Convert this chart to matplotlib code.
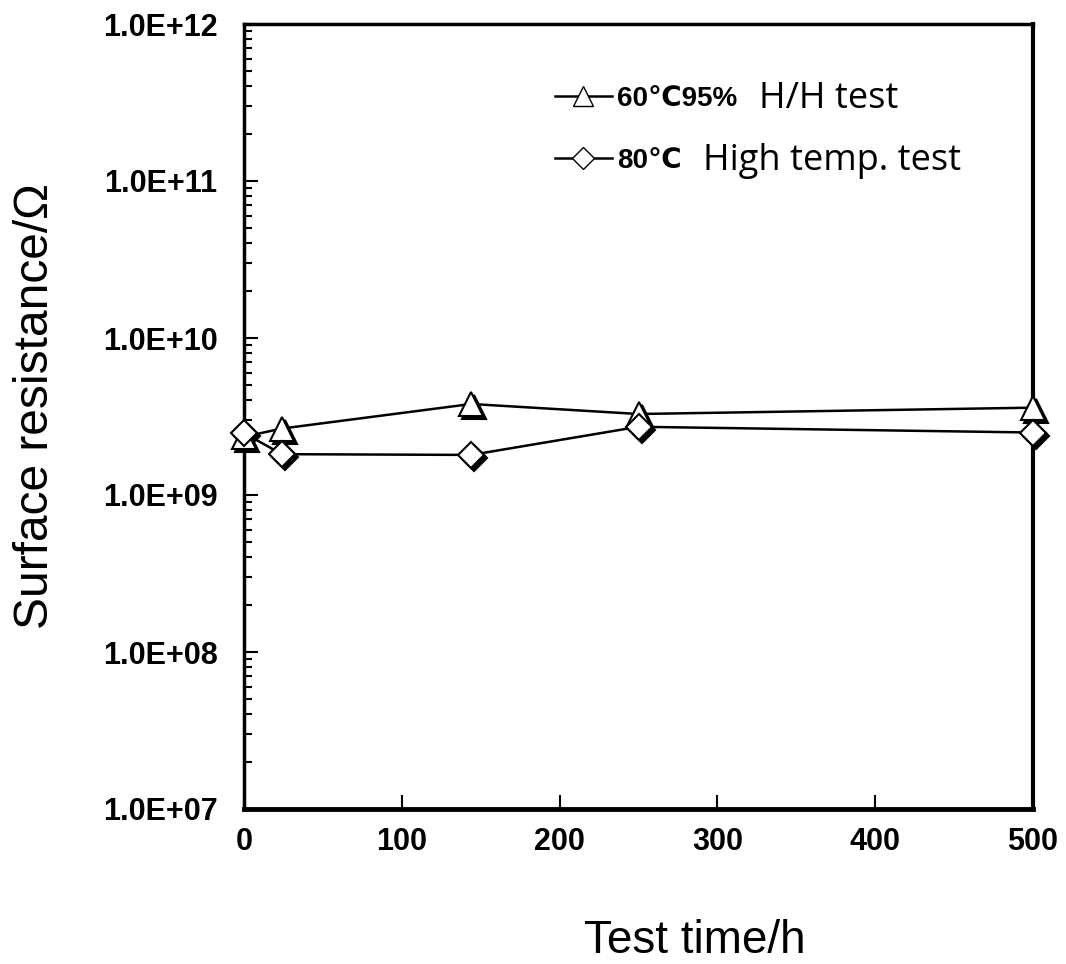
import matplotlib
matplotlib.use("Agg")
import matplotlib.pyplot as plt
import matplotlib.transforms as mtransforms
from matplotlib.lines import Line2D
from matplotlib.ticker import LogLocator, NullFormatter

# ---- data ----
time_h = [0, 24, 144, 250, 500]
hh_test = [2.35e9, 2.65e9, 3.8e9, 3.28e9, 3.6e9]      # 60C 95% H/H test (triangles)
ht_test = [2.48e9, 1.82e9, 1.8e9, 2.72e9, 2.5e9]      # 80C high temp test (diamonds)
x_ticks = [0, 100, 200, 300, 400, 500]
x_ticklabels = ["0", "100", "200", "300", "400", "500"]
y_ticks = [1e7, 1e8, 1e9, 1e10, 1e11, 1e12]
y_ticklabels = ["1.0E+07", "1.0E+08", "1.0E+09", "1.0E+10", "1.0E+11", "1.0E+12"]
legend_bold = ["60\u210395%", "80\u2103"]
legend_plain = ["H/H test", "High temp. test"]

W, H = 1066, 964
fam_bold = ["Liberation Sans", "DejaVu Sans"]
fig = plt.figure(figsize=(W / 100, H / 100), dpi=100)
ax = fig.add_axes([244 / W, 1 - 809 / H, (1033 - 244) / W, (809 - 24) / H])

shadow = mtransforms.offset_copy(ax.transData, fig=fig, x=3, y=-3, units="dots")

for ys, mk, ms in [(hh_test, "^", 17), (ht_test, "D", 13.5)]:
    ax.plot(time_h, ys, color="black", lw=1.8, zorder=2)
    ax.plot(time_h, ys, linestyle="none", marker=mk, ms=ms, mfc="black",
            mec="black", mew=1.5, transform=shadow, zorder=3, clip_on=False)
    ax.plot(time_h, ys, linestyle="none", marker=mk, ms=ms, mfc="white",
            mec="black", mew=1.5, zorder=4, clip_on=False)

ax.set_yscale("log")
ax.set_xlim(0, 500)
ax.set_ylim(1e7, 1e12)

ax.set_xticks(x_ticks)
ax.set_xticklabels(x_ticklabels, fontsize=22, fontweight="bold", family=fam_bold)
ax.set_yticks(y_ticks)
ax.set_yticklabels(y_ticklabels, fontsize=22, fontweight="bold", family=fam_bold)
ax.yaxis.set_minor_locator(LogLocator(base=10, subs=range(2, 10), numticks=20))
ax.yaxis.set_minor_formatter(NullFormatter())
ax.tick_params(axis="x", which="major", direction="in", length=10, width=1.5, pad=13)
ax.tick_params(axis="y", which="major", direction="in", length=10, width=1.5, pad=19)
ax.tick_params(axis="y", which="minor", direction="in", length=6, width=1.5)

for s in ax.spines.values():
    s.set_linewidth(2.5)
ax.spines["bottom"].set_linewidth(3.5)
ax.spines["right"].set_linewidth(3)

fam_reg = ["Liberation Sans", "DejaVu Sans"]
fig.text(695 / W, 1 - 941 / H, "Test time/h", fontsize=33, family=fam_reg,
         ha="center", va="center")
fig.text(36 / W, 1 - 406 / H, "Surface resistance/\u03a9", fontsize=34.5, family=fam_reg,
         ha="center", va="center", rotation=90)

# legend
handles = [
    Line2D([], [], color="black", lw=1.8, marker="^", ms=14, mfc="white", mec="black", mew=1.0),
    Line2D([], [], color="black", lw=1.8, marker="D", ms=11, mfc="white", mec="black", mew=1.0),
]
leg = ax.legend(handles, legend_bold, loc="upper left",
                bbox_to_anchor=(555 / W, 1 - 86 / H), bbox_transform=fig.transFigure,
                frameon=False, handlelength=2.05, handletextpad=0.2, labelspacing=1.3,
                borderpad=0, borderaxespad=0,
                prop={"family": fam_bold, "weight": "bold", "size": 20})
fig.canvas.draw()
renderer = fig.canvas.get_renderer()
inv = fig.transFigure.inverted()
for txt, plain in zip(leg.get_texts(), legend_plain):
    bb = txt.get_window_extent(renderer)
    x0, y0 = inv.transform((bb.x1 + 21, (bb.y0 + bb.y1) / 2))
    fig.text(x0, y0, plain, fontsize=26, family=["Open Sans", "DejaVu Sans"],
             va="center", ha="left")

fig.savefig("out.png", dpi=100, facecolor="white")
